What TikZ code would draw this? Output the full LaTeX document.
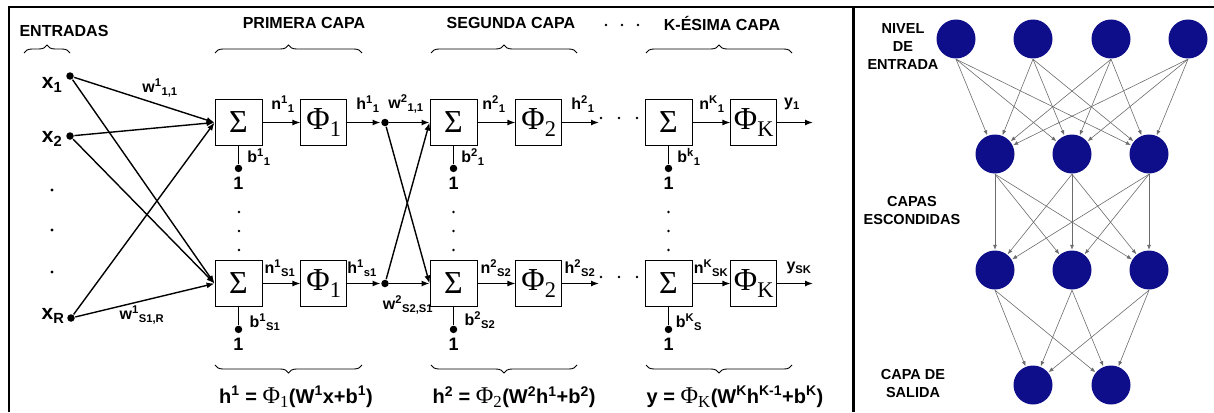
\documentclass[tikz,border=0pt]{standalone}
\usepackage{fontspec}
\setmainfont{Liberation Sans}
\newfontfamily\serifgr{Liberation Serif}
\usetikzlibrary{arrows.meta, positioning, decorations.pathreplacing}
\definecolor{azulnodo}{RGB}{14,14,138}

\begin{document}
\begin{tikzpicture}[
    x=1pt, y=-1pt,
    line width=1.4pt,
    font=\bfseries\fontsize{16}{18}\selectfont,
    node distance=38pt,
    somador/.style={draw, rectangle, line width=0.9pt, minimum width=47pt, minimum height=46pt, inner sep=0pt, font=\serifgr\mdseries\fontsize{32}{32}\selectfont},
    funcao/.style={somador, minimum width=46pt},
    seta/.style={-{Latex[length=8pt, width=6pt]}},
    ponto/.style={circle, fill, inner sep=0pt, minimum size=7.5pt},
    pontinho/.style={circle, fill, inner sep=0pt, minimum size=2.6pt},
    chave/.style={decorate, decoration={brace, amplitude=8pt}, line width=0.9pt},
    titulo/.style={font=\bfseries\fontsize{16}{18}\selectfont},
    entrada/.style={font=\bfseries\fontsize{21}{23}\selectfont},
    um/.style={font=\bfseries\fontsize{18}{20}\selectfont},
    formula/.style={font=\bfseries\fontsize{20}{22}\selectfont},
    neurona/.style={circle, fill=azulnodo, minimum size=39pt, inner sep=0pt},
    conexao/.style={draw=gray!85!black, line width=0.6pt, -{Latex[length=5pt, width=4pt]}},
    rotulo/.style={font=\bfseries\fontsize{14.5}{18}\selectfont, align=center},
]
    \useasboundingbox (0,0) rectangle (1214,412);
    % moldura
    \draw[line width=2pt] (9,412) -- (9,7) -- (1214,7);
    \draw[line width=3pt] (853,7) -- (853,412);

    % titulos e chaves
    \node[titulo] (tent) at (64,31) {ENTRADAS};
    \node[titulo] (tc1) at (304,23) {PRIMERA CAPA};
    \node[titulo] (tc2) at (511,23) {SEGUNDA CAPA};
    \node[titulo] (tck) at (722,23) {K-ÉSIMA CAPA};
    \foreach \x in {606,622,638}
        \node[pontinho] (tp\x) at (\x,25) {};
    \draw[chave] (24,53) -- (70,53);
    \draw[chave] (215,53) -- (362,53);
    \draw[chave] (431,53) -- (577,53);
    \draw[chave] (646,53) -- (792,53);
    \draw[chave] (362,365) -- (215,365);
    \draw[chave] (577,365) -- (431,365);
    \draw[chave] (792,365) -- (646,365);
    \node[formula] (f1) at (296,397) {h\textsuperscript{1} = {\serifgr\mdseries\fontsize{24}{24}\selectfont Φ\textsubscript{1}}(W\textsuperscript{1}x+b\textsuperscript{1})};
    \node[formula] (f2) at (514,397) {h\textsuperscript{2} = {\serifgr\mdseries\fontsize{24}{24}\selectfont Φ\textsubscript{2}}(W\textsuperscript{2}h\textsuperscript{1}+b\textsuperscript{2})};
    \node[formula] (fk) at (735,397) {y = {\serifgr\mdseries\fontsize{24}{24}\selectfont Φ\textsubscript{K}}(W\textsuperscript{K}h\textsuperscript{K-1}+b\textsuperscript{K})};

    % entradas
    \node[ponto] (x1) at (70,76) {};
    \node[ponto] (x2) at (70,136) {};
    \node[ponto] (xR) at (71,318) {};
    \node[entrada] (lx1) at (52,85) {x\textsubscript{1}};
    \node[entrada] (lx2) at (52,139) {x\textsubscript{2}};
    \node[entrada] (lxR) at (53,316) {x\textsubscript{R}};
    \foreach \y in {190,230,272}
        \node[pontinho, minimum size=3.2pt] (vx\y) at (52,\y) {};

    % primeira capa
    \node[somador] (s11) at (238.5,122.5) {Σ};
    \node[funcao, right=of s11] (p11) {Φ\textsubscript{1}};
    \node[somador] (s1S) at (238.5,283.5) {Σ};
    \node[funcao, right=of s1S] (p1S) {Φ\textsubscript{1}};
    \node[ponto] (h11) at (385,122.5) {};
    \node[ponto] (h1S) at (385,283.5) {};

    % segunda capa
    \node[somador] (s21) at (453.5,122.5) {Σ};
    \node[funcao, right=of s21] (p21) {Φ\textsubscript{2}};
    \node[somador] (s2S) at (453.5,283.5) {Σ};
    \node[funcao, right=of s2S] (p2S) {Φ\textsubscript{2}};
    \coordinate (o21) at (599,122.5);
    \coordinate (o2S) at (599,283.5);

    % capa K
    \node[somador] (sK1) at (668.5,122.5) {Σ};
    \node[funcao, right=of sK1] (pK1) {Φ\textsubscript{K}};
    \node[somador] (sKS) at (668.5,283.5) {Σ};
    \node[funcao, right=of sKS] (pKS) {Φ\textsubscript{K}};
    \coordinate (oK1) at (813,122.5);
    \coordinate (oKS) at (813,283.5);

    \foreach \x in {601,619,637} {
        \node[pontinho] (ha\x) at (\x,118) {};
        \node[pontinho] (hb\x) at (\x,277) {};
    }
    \foreach \c/\x in {a/239,b/453.5,c/668.5}
        \foreach \y in {212,231,250}
            \node[pontinho] (v\c\y) at (\x,\y) {};

    % bias
    \foreach \s in {11,1S,21,2S,K1,KS} {
        \node[ponto, below=18pt of s\s] (b\s) {};
        \node[um, below=0pt of b\s] (u\s) {1};
        \draw (s\s.south) -- (b\s);
    }

    % conexoes
    \foreach \e in {x1,x2,xR} {
        \draw[seta] (\e) -- (s11.west);
        \draw[seta] (\e) -- (s1S.west);
    }
    \draw[seta] (s11) -- (p11);
    \draw[seta] (s1S) -- (p1S);
    \draw[seta] (p11) -- (h11);
    \draw[seta] (p1S) -- (h1S);
    \foreach \h in {h11,h1S} {
        \draw[seta] (\h) -- (s21.west);
        \draw[seta] (\h) -- (s2S.west);
    }
    \draw[seta] (s21) -- (p21);
    \draw[seta] (s2S) -- (p2S);
    \draw[seta] (p21) -- (o21);
    \draw[seta] (p2S) -- (o2S);
    \draw[seta] (sK1) -- (pK1);
    \draw[seta] (sKS) -- (pKS);
    \draw[seta] (pK1) -- (oK1);
    \draw[seta] (pKS) -- (oKS);

    % rotulos
    \node (lw1a) at (160,88) {w\textsuperscript{1}\textsubscript{1,1}};
    \node (lw1b) at (142,315) {w\textsuperscript{1}\textsubscript{S1,R}};
    \node (ln11) at (283,104) {n\textsuperscript{1}\textsubscript{1}};
    \node (ln1S) at (280,268) {n\textsuperscript{1}\textsubscript{S1}};
    \node (lh11) at (368,104) {h\textsuperscript{1}\textsubscript{1}};
    \node (lh1S) at (362,268) {h\textsuperscript{1}\textsubscript{s1}};
    \node (lw2a) at (406,104) {w\textsuperscript{2}\textsubscript{1,1}};
    \node (lw2b) at (408,305) {w\textsuperscript{2}\textsubscript{S2,S1}};
    \node (lb11) at (259,157) {b\textsuperscript{1}\textsubscript{1}};
    \node (lb1S) at (265,322) {b\textsuperscript{1}\textsubscript{S1}};
    \node (ln21) at (494,104) {n\textsuperscript{2}\textsubscript{1}};
    \node (ln2S) at (496,268) {n\textsuperscript{2}\textsubscript{S2}};
    \node (lh21) at (583,104) {h\textsuperscript{2}\textsubscript{1}};
    \node (lh2S) at (580,268) {h\textsuperscript{2}\textsubscript{S2}};
    \node (lb21) at (473,157) {b\textsuperscript{2}\textsubscript{1}};
    \node (lb2S) at (480,320) {b\textsuperscript{2}\textsubscript{S2}};
    \node (lnK1) at (712,104) {n\textsuperscript{K}\textsubscript{1}};
    \node (lnKS) at (711,268) {n\textsuperscript{K}\textsubscript{SK}};
    \node (ly1) at (792,104) {y\textsubscript{1}};
    \node (lyS) at (799,268) {y\textsubscript{SK}};
    \node (lbK1) at (689,157) {b\textsuperscript{k}\textsubscript{1}};
    \node (lbKS) at (689,322) {b\textsuperscript{K}\textsubscript{S}};

    % rede
    \foreach \x [count=\i] in {956,1033,1111,1188}
        \node[neurona] (ent\i) at (\x,39) {};
    \foreach \x [count=\i] in {995,1072,1149} {
        \node[neurona] (oca\i) at (\x,154) {};
        \node[neurona] (ocb\i) at (\x,270) {};
    }
    \foreach \x [count=\i] in {1033,1111}
        \node[neurona] (sal\i) at (\x,385) {};
    \foreach \i in {1,...,4}
        \foreach \j in {1,2,3}
            \draw[conexao] (ent\i.south) -- (oca\j);
    \foreach \i in {1,2,3}
        \foreach \j in {1,2,3}
            \draw[conexao] (oca\i.south) -- (ocb\j);
    \foreach \i in {1,2,3}
        \foreach \j in {1,2}
            \draw[conexao] (ocb\i.south) -- (sal\j);
    \node[rotulo] (lne) at (903,47) {NIVEL\\DE\\ENTRADA};
    \node[rotulo] (lce) at (912,211) {CAPAS\\ESCONDIDAS};
    \node[rotulo] (lcs) at (913,384) {CAPA DE\\SALIDA};
\end{tikzpicture}
\end{document}
